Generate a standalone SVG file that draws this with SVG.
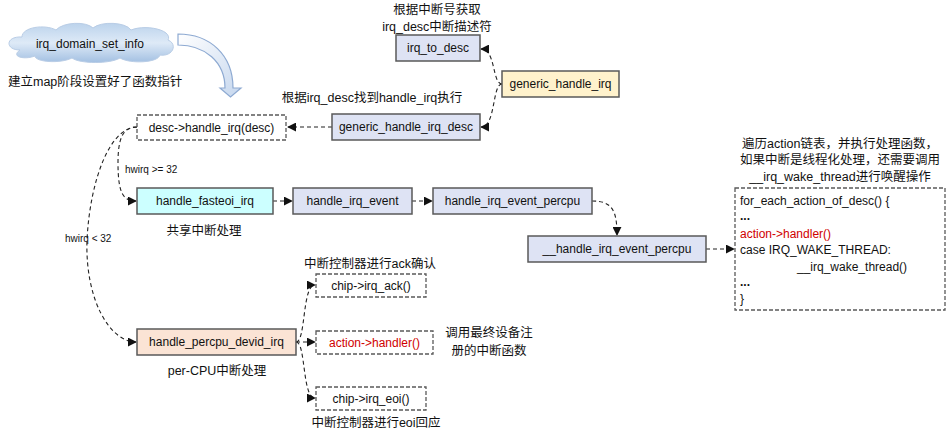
<svg xmlns="http://www.w3.org/2000/svg" width="951" height="430" viewBox="0 0 951 430">
<defs>
<linearGradient id="cloudG" x1="0" y1="0" x2="0" y2="1">
<stop offset="0" stop-color="#bcd3ec"/>
<stop offset="0.5" stop-color="#deeaf7"/>
<stop offset="1" stop-color="#a3c0e2"/>
</linearGradient>
<linearGradient id="arrG" x1="0" y1="0" x2="1" y2="1">
<stop offset="0" stop-color="#ffffff"/>
<stop offset="1" stop-color="#c6d7ee"/>
</linearGradient>
<marker id="ah" viewBox="0 0 10 10" refX="9" refY="5" markerWidth="9" markerHeight="9" markerUnits="userSpaceOnUse" orient="auto">
<path d="M0,0 L10,5 L0,10 Z" fill="#111"/>
</marker>
<style>
text{font-family:"Liberation Sans","Noto Sans CJK SC",sans-serif;fill:#111;}
.t{font-size:12px;text-anchor:middle;}
.cn{font-size:12.5px;text-anchor:middle;}
.cnl{font-size:12.5px;}
.sm{font-size:10px;}
.code{font-size:12px;}
.dots{font-weight:bold;}
.red{fill:#d00000;}
.box{stroke:#595959;stroke-width:1.5;}
.lav{fill:#dee3f4;}
.dbox{fill:#fff;stroke:#595959;stroke-width:1.3;stroke-dasharray:4,2;}
.con{fill:none;stroke:#222;stroke-width:1.1;stroke-dasharray:4,3;marker-end:url(#ah);}
</style>
</defs>
<rect width="951" height="430" fill="#fff"/>

<g id="cloud">
<path d="M20,50 C5,50 5,36 22,37 C22,27 45,24 56,30 C63,22 86,21 93,28 C101,21 126,22 131,30 C146,24 173,30 168,40 C178,44 173,57 160,55 C158,63 130,64 120,58 C110,64 80,64 72,58 C60,64 35,62 35,56 C25,60 10,57 20,50 Z" fill="url(#cloudG)" stroke="#b9cde6" stroke-width="1"/>
<text class="t" x="90" y="48">irq_domain_set_info</text>
</g>
<g id="bigArrow">
<path d="M178,34 C210,34 233,55 233,88 L241,88 L230.5,97 L220,88 L225,88 C225,62 205,45 178,45 Z" fill="url(#arrG)" stroke="#8eaad2" stroke-width="1.2"/>
</g>
<text class="cnl" x="8" y="86">建立map阶段设置好了函数指针</text>

<g id="connectors">
<path class="con" d="M502,84 C492,84 496,49 481,49"/>
<path class="con" d="M502,84 C492,84 496,127 481,127"/>
<path class="con" d="M332,127 L288,127"/>
<path class="con" d="M137,127 C122,127 118,140 118,163 C118,195 124,201 136,201"/>
<path class="con" d="M137,127 C110,127 90,180 87,240 C85,300 110,342 136,342"/>
<path class="con" d="M273,201 L292,201"/>
<path class="con" d="M412,201 L432,201"/>
<path class="con" d="M592,201 C612,201 617,210 617,235"/>
<path class="con" d="M706,249 L734,249"/>
<path class="con" d="M296,342 C306,342 302,285 315,285"/>
<path class="con" d="M296,342 L315,342"/>
<path class="con" d="M296,342 C306,342 302,398 315,398"/>
</g>

<text class="sm" x="125" y="173">hwirq &gt;= 32</text>
<text class="sm" x="65" y="242">hwirq &lt; 32</text>

<g id="irq_to_desc">
<rect class="box lav" x="396" y="35" width="84" height="26"/>
<text class="t" x="438" y="52">irq_to_desc</text>
</g>
<text class="cn" x="437" y="14">根据中断号获取</text>
<text class="cn" x="437" y="31">irq_desc中断描述符</text>

<g id="generic_handle_irq">
<rect class="box" fill="#fff2cc" x="502" y="71" width="117" height="26"/>
<text class="t" x="560.5" y="88">generic_handle_irq</text>
</g>

<text class="cn" x="372" y="102">根据irq_desc找到handle_irq执行</text>
<g id="generic_handle_irq_desc">
<rect class="box lav" x="332" y="114" width="148" height="26"/>
<text class="t" x="406" y="131">generic_handle_irq_desc</text>
</g>

<g id="desc_handle_irq">
<rect class="dbox" x="137" y="115" width="149" height="25"/>
<text class="t" x="211.5" y="132">desc-&gt;handle_irq(desc)</text>
</g>

<g id="handle_fasteoi_irq">
<rect class="box" fill="#ccffff" x="137" y="188" width="136" height="26"/>
<text class="t" x="205" y="205">handle_fasteoi_irq</text>
</g>
<text class="cn" x="204" y="235">共享中断处理</text>

<g id="handle_irq_event">
<rect class="box lav" x="293" y="188" width="119" height="26"/>
<text class="t" x="352.5" y="205">handle_irq_event</text>
</g>

<g id="handle_irq_event_percpu">
<rect class="box lav" x="433" y="188" width="159" height="26"/>
<text class="t" x="512.5" y="205">handle_irq_event_percpu</text>
</g>

<g id="__handle_irq_event_percpu">
<rect class="box lav" x="528" y="236" width="178" height="26"/>
<text class="t" x="617" y="253">__handle_irq_event_percpu</text>
</g>

<text class="cn" x="840" y="148">遍历action链表，并执行处理函数，</text>
<text class="cn" x="840" y="164">如果中断是线程化处理，还需要调用</text>
<text class="cn" x="840" y="181">__irq_wake_thread进行唤醒操作</text>
<g id="code_box">
<rect class="dbox" x="735" y="188" width="210" height="122"/>
<text class="code" x="740" y="205">for_each_action_of_desc() {</text>
<text class="code dots" x="740" y="220">...</text>
<text class="code red" x="740" y="238">action-&gt;handler()</text>
<text class="code" x="740" y="254">case IRQ_WAKE_THREAD:</text>
<text class="code" x="797" y="271">__irq_wake_thread()</text>
<text class="code dots" x="740" y="286">...</text>
<text class="code" x="740" y="303">}</text>
</g>

<g id="handle_percpu_devid_irq">
<rect class="box" fill="#fbe4d5" x="137" y="329" width="159" height="26"/>
<text class="t" x="216.5" y="346">handle_percpu_devid_irq</text>
</g>
<text class="cn" x="217" y="375">per-CPU中断处理</text>

<text class="cn" x="370" y="268">中断控制器进行ack确认</text>
<g id="chip_irq_ack">
<rect class="dbox" x="316" y="274" width="110" height="23"/>
<text class="t" x="371" y="290">chip-&gt;irq_ack()</text>
</g>

<g id="action_handler">
<rect class="dbox" x="316" y="331" width="117" height="23"/>
<text class="t red" x="374.5" y="347">action-&gt;handler()</text>
</g>
<text class="cn" x="489" y="337">调用最终设备注</text>
<text class="cn" x="489" y="355">册的中断函数</text>

<g id="chip_irq_eoi">
<rect class="dbox" x="316" y="387" width="110" height="23"/>
<text class="t" x="371" y="403">chip-&gt;irq_eoi()</text>
</g>
<text class="cn" x="376" y="427">中断控制器进行eoi回应</text>
</svg>
